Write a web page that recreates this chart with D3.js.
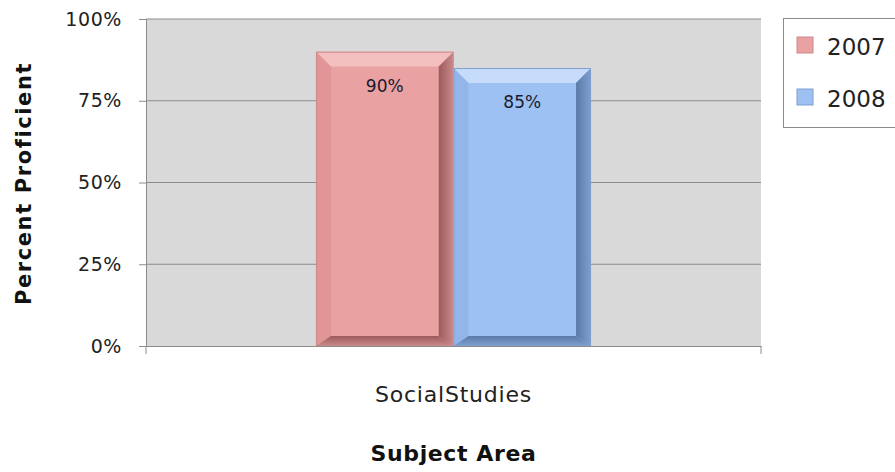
<!DOCTYPE html>
<html>
<head>
<meta charset="utf-8">
<script src="https://cdn.jsdelivr.net/npm/d3@7"></script>
<style>
  body { margin: 0; background: #fff; }
  text { font-family: "DejaVu Sans", "Verdana", sans-serif; }
</style>
</head>
<body>
<svg id="chart" width="895" height="472"></svg>
<script>
// chart data
var categories = ["SocialStudies"];
var seriesNames = ["2007", "2008"];
var values2007 = [0.90];
var values2008 = [0.85];
var yTicks = [0, 0.25, 0.5, 0.75, 1];

var colors = {
  "2007": {fill: "#e9a1a2", light: "#f4bfbf", mid: "#e29596", dark: "#9c5a5c", edge: "#c98a8b"},
  "2008": {fill: "#9ec1f3", light: "#c6dcfa", mid: "#92b5ea", dark: "#5b7aa8", edge: "#7f9fce"}
};

var margin = {top: 19, right: 134, bottom: 126, left: 146},
    width = 895 - margin.left - margin.right,
    height = 472 - margin.top - margin.bottom;

var root = d3.select("#chart");
var defs = root.append("defs");

var svg = root
  .append("g")
  .attr("transform", "translate(" + margin.left + "," + margin.top + ")");

var y = d3.scaleLinear().domain([0, 1]).range([height, 0]);
var x0 = d3.scaleBand().domain(categories).range([0, width]).paddingInner(0).paddingOuter(0.618);
var x1 = d3.scaleBand().domain(seriesNames).range([0, x0.bandwidth()]).padding(0);

// plot area
svg.append("rect")
  .attr("x", 0).attr("y", 0)
  .attr("width", width).attr("height", height)
  .attr("fill", "#d9d9d9");

// gridlines
svg.selectAll(".grid")
  .data(yTicks.filter(function(d) { return d > 0; }))
  .enter().append("line")
  .attr("class", "grid")
  .attr("x1", 0).attr("x2", width)
  .attr("y1", function(d) { return y(d); })
  .attr("y2", function(d) { return y(d); })
  .attr("stroke", "#8c8c8c").attr("stroke-width", 1);

// y axis
var yAxis = svg.append("g")
  .call(d3.axisLeft(y).tickValues(yTicks).tickSize(7).tickPadding(17).tickFormat(d3.format(".0%")));
yAxis.select(".domain").attr("stroke", "#8c8c8c");
yAxis.selectAll(".tick line").attr("stroke", "#8c8c8c");
yAxis.selectAll("text").attr("font-size", "19px").attr("fill", "#222").attr("letter-spacing", "0.6px");

// x axis
var xAxis = svg.append("g")
  .attr("transform", "translate(0," + height + ")")
  .call(d3.axisBottom(x0).tickSize(0).tickPadding(40));
xAxis.select(".domain").attr("stroke", "#8c8c8c");
xAxis.selectAll("text").attr("font-size", "22px").attr("fill", "#222").attr("letter-spacing", "0.8px");
[0, width].forEach(function(px) {
  xAxis.append("line").attr("x1", px).attr("x2", px).attr("y1", 0).attr("y2", 8).attr("stroke", "#8c8c8c");
});

// bars with bevel
var barData = [];
categories.forEach(function(c, i) {
  barData.push({cat: c, series: "2007", value: values2007[i]});
  barData.push({cat: c, series: "2008", value: values2008[i]});
});

seriesNames.forEach(function(s) {
  var c = colors[s];
  var gr = defs.append("linearGradient").attr("id", "gr" + s).attr("x1", 0).attr("x2", 1).attr("y1", 0).attr("y2", 0);
  gr.append("stop").attr("offset", 0).attr("stop-color", c.dark);
  gr.append("stop").attr("offset", 1).attr("stop-color", c.edge);
  var gb = defs.append("linearGradient").attr("id", "gb" + s).attr("x1", 0).attr("x2", 0).attr("y1", 0).attr("y2", 1);
  gb.append("stop").attr("offset", 0).attr("stop-color", c.dark);
  gb.append("stop").attr("offset", 1).attr("stop-color", c.edge);
});

var bevT = 15, bevS = 15, bevB = 10;
var bars = svg.selectAll(".bar")
  .data(barData)
  .enter().append("g")
  .attr("class", "bar");

bars.each(function(d) {
  var g = d3.select(this);
  var c = colors[d.series];
  var bx = x0(d.cat) + x1(d.series), bw = x1.bandwidth();
  var by = y(d.value), bh = height - y(d.value);
  var ix = bx + bevS, iy = by + bevT, iw = bw - 2 * bevS, ih = bh - bevT - bevB;
  g.append("rect").attr("x", bx).attr("y", by).attr("width", bw).attr("height", bh).attr("fill", c.fill);
  // top facet
  g.append("polygon").attr("points", [[bx, by], [bx + bw, by], [ix + iw, iy], [ix, iy]].join(" ")).attr("fill", c.light);
  // left facet
  g.append("polygon").attr("points", [[bx, by], [ix, iy], [ix, iy + ih], [bx, by + bh]].join(" ")).attr("fill", c.mid);
  // right facet
  g.append("polygon").attr("points", [[bx + bw, by], [bx + bw, by + bh], [ix + iw, iy + ih], [ix + iw, iy]].join(" ")).attr("fill", "url(#gr" + d.series + ")");
  // bottom facet
  g.append("polygon").attr("points", [[bx, by + bh], [ix, iy + ih], [ix + iw, iy + ih], [bx + bw, by + bh]].join(" ")).attr("fill", "url(#gb" + d.series + ")");
  // inner face
  g.append("rect").attr("x", ix).attr("y", iy).attr("width", iw).attr("height", ih).attr("fill", c.fill);
  g.append("rect").attr("x", bx + 0.5).attr("y", by + 0.5).attr("width", bw - 1).attr("height", bh - 1)
    .attr("fill", "none").attr("stroke", c.edge).attr("stroke-width", 1);
  g.append("text")
    .attr("x", bx + bw / 2)
    .attr("y", by + 40)
    .attr("text-anchor", "middle")
    .attr("font-size", "17px")
    .attr("fill", "#1a1a2e")
    .text(d3.format(".0%")(d.value));
});

// axis titles
svg.append("text")
  .attr("transform", "translate(" + (-115) + "," + (height / 2 + 1) + ") rotate(-90)")
  .attr("text-anchor", "middle")
  .attr("font-size", "21px").attr("font-weight", "bold").attr("fill", "#111")
  .attr("letter-spacing", "1.6px")
  .text("Percent Proficient");

svg.append("text")
  .attr("x", width / 2).attr("y", height + 115)
  .attr("text-anchor", "middle")
  .attr("font-size", "22px").attr("font-weight", "bold").attr("fill", "#111")
  .attr("letter-spacing", "0.6px")
  .text("Subject Area");

// legend
var legend = root.append("g")
  .attr("transform", "translate(783,18)");
legend.append("rect")
  .attr("x", 0.5).attr("y", 0.5).attr("width", 130).attr("height", 109)
  .attr("fill", "#fff").attr("stroke", "#8c8c8c");
seriesNames.forEach(function(s, i) {
  var ly = 27 + i * 52;
  legend.append("rect").attr("x", 14).attr("y", ly - 8).attr("width", 16).attr("height", 16)
    .attr("fill", colors[s].fill).attr("stroke", colors[s].edge);
  legend.append("text").attr("x", 44).attr("y", ly + 10)
    .attr("font-size", "23px").attr("fill", "#222").text(s);
});
</script>
</body>
</html>
